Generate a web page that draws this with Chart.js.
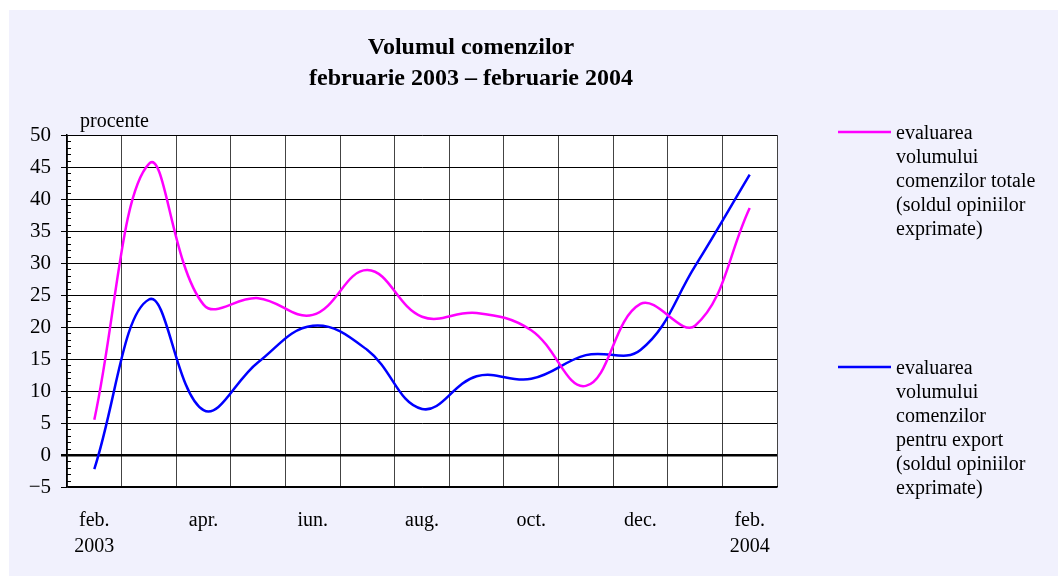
<!DOCTYPE html>
<html>
<head>
<meta charset="utf-8">
<script src="https://cdn.jsdelivr.net/npm/chart.js@4.4.1/dist/chart.umd.min.js"></script>
<style>
  html, body { margin: 0; padding: 0; background: #ffffff; }
  #c { display: block; }
</style>
</head>
<body>
<canvas id="c" width="1058" height="576"></canvas>
<script>
// ---- data ----
const months = ['feb. 2003', 'mar.', 'apr.', 'mai', 'iun.', 'iul.', 'aug.', 'sep.', 'oct.', 'noi.', 'dec.', 'ian.', 'feb. 2004'];
const tickLabels = [['feb.', '2003'], '', 'apr.', '', 'iun.', '', 'aug.', '', 'oct.', '', 'dec.', '', ['feb.', '2004']];
const totalOrders = [5.5, 45.5, 23.5, 24.5, 21.9, 28.9, 21.6, 22.2, 19.5, 10.8, 23.6, 20.2, 38.6];
const exportOrders = [-2.2, 24.3, 7.0, 14.5, 20.2, 16.4, 7.2, 12.3, 11.9, 15.6, 16.4, 29.5, 43.8];
const seriesNames = [
  ['evaluarea', 'volumului', 'comenzilor totale', '(soldul opiniilor', 'exprimate)'],
  ['evaluarea', 'volumului', 'comenzilor', 'pentru export', '(soldul opiniilor', 'exprimate)']
];
const titleLines = ['Volumul comenzilor', 'februarie 2003 \u2013 februarie 2004'];
const yAxisTitle = 'procente';
const yMin = -5, yMax = 50, yStep = 5;

const FONT = '"Liberation Serif", "Times New Roman", serif';

const decorPlugin = {
  id: 'decor',
  beforeDraw(chart) {
    const ctx = chart.ctx;
    ctx.save();
    ctx.fillStyle = '#ffffff';
    ctx.fillRect(0, 0, chart.width, chart.height);
    ctx.fillStyle = '#f1f1fd';
    ctx.fillRect(9, 10, chart.width - 9, chart.height - 10);
    const a = chart.chartArea;
    ctx.fillStyle = '#ffffff';
    ctx.fillRect(a.left, a.top, a.right - a.left, a.bottom - a.top);
    ctx.restore();
  },
  afterDraw(chart) {
    const ctx = chart.ctx;
    const a = chart.chartArea;
    const ys = chart.scales.y;
    ctx.save();
    // minor ticks
    ctx.strokeStyle = '#000';
    ctx.lineWidth = 1;
    for (let v = yMin; v <= yMax; v++) {
      if (v % yStep === 0) continue;
      const y = Math.round(ys.getPixelForValue(v)) + 0.5;
      ctx.beginPath();
      ctx.moveTo(a.left, y);
      ctx.lineTo(a.left + 4, y);
      ctx.stroke();
    }
    // title
    ctx.fillStyle = '#000';
    ctx.font = 'bold 24px ' + FONT;
    ctx.textAlign = 'center';
    ctx.textBaseline = 'middle';
    ctx.fillText(titleLines[0], 471, 48);
    ctx.fillText(titleLines[1], 471, 79);
    // y axis title
    ctx.font = '20px ' + FONT;
    ctx.textAlign = 'left';
    ctx.fillText(yAxisTitle, 80, 122);
    // legend
    const legendY = [132, 367];
    chart.data.datasets.forEach((ds, i) => {
      const y0 = legendY[i];
      ctx.strokeStyle = ds.borderColor;
      ctx.lineWidth = 2.5;
      ctx.beginPath();
      ctx.moveTo(838, y0);
      ctx.lineTo(891, y0);
      ctx.stroke();
      ctx.fillStyle = '#000';
      ctx.font = '20px ' + FONT;
      ctx.textAlign = 'left';
      ctx.textBaseline = 'middle';
      seriesNames[i].forEach((line, k) => {
        ctx.fillText(line, 896, y0 + 2 + k * 24);
      });
    });
    ctx.restore();
  }
};

new Chart(document.getElementById('c'), {
  type: 'line',
  data: {
    labels: months,
    datasets: [
      { label: seriesNames[0].join(' '), data: totalOrders, borderColor: '#ff00ff', backgroundColor: '#ff00ff',
        borderWidth: 2.5, pointRadius: 0, tension: 0.4, fill: false },
      { label: seriesNames[1].join(' '), data: exportOrders, borderColor: '#0000ff', backgroundColor: '#0000ff',
        borderWidth: 2.5, pointRadius: 0, tension: 0.4, fill: false }
    ]
  },
  options: {
    responsive: false,
    animation: false,
    devicePixelRatio: 1,
    layout: { padding: { top: 135, right: 281, bottom: 0, left: 0 } },
    plugins: {
      legend: { display: false },
      title: { display: false },
      tooltip: { enabled: false }
    },
    scales: {
      x: {
        type: 'category',
        offset: true,
        grid: { offset: true, color: '#444', lineWidth: 1, drawTicks: false },
        border: { color: '#000', width: 1.5 },
        ticks: {
          autoSkip: false, maxRotation: 0, minRotation: 0, padding: 21,
          color: '#000',
          font: { family: FONT, size: 20, lineHeight: 1.3 },
          callback: (v, i) => tickLabels[i]
        },
        afterFit(scale) { scale.height = 89; }
      },
      y: {
        min: yMin, max: yMax,
        grid: {
          color: '#000',
          lineWidth: (c) => (c.tick && c.tick.value === 0 ? 2.5 : 1),
          tickLength: 6,
          tickColor: '#000'
        },
        border: { color: '#000', width: 1.5 },
        ticks: {
          stepSize: yStep, padding: 10, color: '#000',
          font: { family: FONT, size: 21 },
          callback: (v) => (v < 0 ? '\u2212' + Math.abs(v) : String(v))
        },
        afterFit(scale) { scale.width = 67; }
      }
    }
  },
  plugins: [decorPlugin]
});
</script>
</body>
</html>
